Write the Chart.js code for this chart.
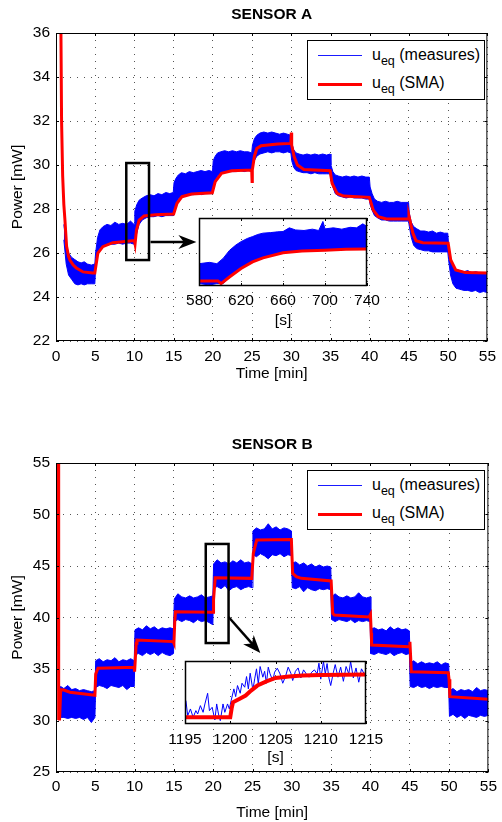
<!DOCTYPE html>
<html>
<head>
<meta charset="utf-8">
<script src="https://cdn.jsdelivr.net/npm/chart.js@4.4.1/dist/chart.umd.min.js"></script>
<style>
  body { margin: 0; background: #fff; }
  #wrap { position: relative; width: 502px; height: 822px; font-family: 'Liberation Sans', Arial, sans-serif; }
  canvas { position: absolute; }
  .lg { position: absolute; left: 307px; width: 176px; height: 58px; border: 1px solid #000; background: #fff; }
  .sw { position: absolute; left: 10px; width: 44px; }
  .tx { position: absolute; left: 64px; font-size: 16px; line-height: 16px; white-space: nowrap; color: #000; }
  .tx sub { font-size: 12.5px; vertical-align: -5px; line-height: 0; }
</style>
</head>
<body>
<div id="wrap">
  <canvas id="mainA" width="502" height="411" style="left:0;top:0"></canvas>
  <canvas id="mainB" width="502" height="411" style="left:0;top:411px"></canvas>

  <div class="lg" style="top:40px">
    <div class="sw" style="top:14px;height:1px;background:#1a1aff"></div>
    <div class="sw" style="top:42px;height:3px;background:#f00"></div>
    <div class="tx" style="top:6px">u<sub>eq</sub> (measures)</div>
    <div class="tx" style="top:34px">u<sub>eq</sub> (SMA)</div>
  </div>
  <div class="lg" style="top:470px">
    <div class="sw" style="top:14px;height:1px;background:#1a1aff"></div>
    <div class="sw" style="top:42px;height:3px;background:#f00"></div>
    <div class="tx" style="top:6px">u<sub>eq</sub> (measures)</div>
    <div class="tx" style="top:34px">u<sub>eq</sub> (SMA)</div>
  </div>

  <canvas id="insetA" width="205" height="122" style="left:180px;top:210px"></canvas>
  <canvas id="insetB" width="230" height="116" style="left:160px;top:652px"></canvas>
</div>

<script>
// ---- Sensor A, main plot (time in minutes, power in mW) ----
var smaTimeA = [0.5,0.63,0.71,0.85,1.0,1.14,1.35,1.6,1.77,2.2,2.6,3.45,4.7,4.95,5.34,5.97,7.23,9.75,10.0,10.08,
  10.26,10.6,11.23,12.7,15.0,15.43,16.06,17.3,19.93,20.3,21.1,22.4,24.95,25.0,25.03,25.3,25.6,26.15,28.26,29.94,
  30.0,30.05,30.36,30.78,31.6,34.95,35.2,35.83,36.67,39.95,40.45,41.08,42.13,44.95,45.0,45.5,45.9,46.76,50.0,50.33,
  50.96,52.2,55.0];
var smaA = [40,36,32,29.5,28.2,27.5,26.3,25.85,25.68,25.45,25.32,25.14,25.09,25.09,26.0,26.29,26.47,26.56,26.56,26.41,
  27.05,27.5,27.68,27.74,27.77,28.26,28.56,28.68,28.74,29.24,29.62,29.74,29.77,29.25,29.77,30.4,30.75,30.88,30.95,30.98,
  31.47,30.9,30.38,30.0,29.8,29.74,29.17,28.71,28.59,28.53,27.95,27.65,27.55,27.54,27.68,26.9,26.56,26.47,26.44,25.68,
  25.23,25.11,25.09];

var startTimeA = [0, 0.02];
var startA = [40, 28.7];

var bandTimeA = [1.0,1.3,1.6,2.0,2.4,2.8,3.2,3.6,4.0,4.5,4.95,
  5.05,5.3,5.6,6.0,6.5,7.0,7.5,8.0,8.5,9.0,9.5,9.95,
  10.05,10.3,10.6,11.0,11.5,12.0,12.5,13.0,13.5,14.0,14.5,14.95,
  15.05,15.3,15.6,16.0,16.5,17.0,17.5,18.0,18.5,19.0,19.5,19.95,
  20.05,20.3,20.6,21.0,21.5,22.0,22.5,23.0,23.5,24.0,24.5,24.95,
  25.05,25.3,25.6,26.0,26.5,27.0,27.5,28.0,28.5,29.0,29.5,29.95,
  30.05,30.3,30.6,31.0,31.5,32.0,32.5,33.0,33.5,34.0,34.5,34.95,
  35.05,35.3,35.6,36.0,36.5,37.0,37.5,38.0,38.5,39.0,39.5,39.95,
  40.05,40.3,40.6,41.0,41.5,42.0,42.5,43.0,43.5,44.0,44.5,44.95,
  45.05,45.3,45.6,46.0,46.5,47.0,47.5,48.0,48.5,49.0,49.5,49.95,
  50.05,50.3,50.6,51.0,51.5,52.0,52.5,53.0,53.5,54.0,54.5,55.0];
var bandHighA = [27.3,26.4,26.0,25.8,25.7,25.6,25.55,25.6,25.5,25.45,25.5,
  26.0,26.7,27.05,27.2,27.3,27.25,27.4,27.3,27.35,27.3,27.45,27.3,
  27.9,28.2,28.4,28.5,28.6,28.65,28.6,28.7,28.65,28.75,28.7,28.75,
  29.2,29.4,29.55,29.65,29.6,29.7,29.65,29.7,29.75,29.7,29.75,29.7,
  30.2,30.4,30.55,30.6,30.65,30.6,30.65,30.6,30.65,30.6,30.6,30.55,
  30.9,31.2,31.35,31.45,31.5,31.45,31.5,31.45,31.4,31.45,31.4,31.35,
  31.0,30.7,30.55,30.5,30.45,30.5,30.45,30.5,30.45,30.5,30.45,30.5,
  30.0,29.7,29.55,29.5,29.45,29.5,29.45,29.5,29.45,29.5,29.45,29.45,
  29.0,28.7,28.45,28.35,28.3,28.35,28.3,28.3,28.35,28.3,28.3,28.3,
  27.8,27.4,27.2,27.1,27.0,27.0,26.95,27.0,26.9,26.95,26.9,26.9,
  26.4,25.8,25.4,25.25,25.2,25.15,25.2,25.1,25.15,25.1,25.1,25.1];
var bandLowA = [26.6,25.5,25.0,24.8,24.6,24.55,24.6,24.55,24.6,24.6,24.6,
  25.3,25.9,26.2,26.3,26.35,26.4,26.4,26.45,26.4,26.45,26.45,26.4,
  26.45,26.9,27.3,27.5,27.6,27.65,27.65,27.7,27.65,27.7,27.7,27.7,
  27.9,28.2,28.45,28.55,28.6,28.65,28.65,28.7,28.65,28.7,28.7,28.7,
  29.0,29.3,29.5,29.6,29.65,29.7,29.7,29.7,29.75,29.7,29.75,29.7,
  29.9,30.2,30.4,30.5,30.55,30.6,30.55,30.6,30.6,30.55,30.6,30.55,
  30.2,29.9,29.75,29.7,29.65,29.65,29.6,29.65,29.6,29.6,29.6,29.6,
  29.3,29.0,28.7,28.6,28.55,28.5,28.55,28.5,28.5,28.5,28.45,28.45,
  28.2,27.95,27.7,27.6,27.5,27.5,27.45,27.45,27.45,27.45,27.45,27.45,
  27.2,26.7,26.35,26.2,26.15,26.1,26.1,26.05,26.05,26.05,26.05,26.05,
  25.7,25.0,24.6,24.4,24.35,24.3,24.3,24.25,24.3,24.2,24.25,24.2];

// ---- Sensor A, zoom inset (time in seconds) ----
var insetSmaTimeA = [580,598,601,609,620,631,641,660,678,700,720,740];
var insetSmaA = [26.6,26.6,26.5,26.75,27.07,27.32,27.47,27.66,27.73,27.76,27.79,27.8];
var insetBandTimeA = [580,590,597,603,609,615,620,626,631,636,641,648,655,660,666,672,680,688,694,698,700,708,716,724,730,736,740];
var insetHighA = [27.25,27.3,27.25,27.45,27.75,27.95,28.08,28.2,28.27,28.35,28.4,28.42,28.45,28.46,28.6,28.52,28.5,28.55,28.5,28.84,28.56,28.6,28.55,28.62,28.6,28.75,28.65];
var insetLowA = [26.5,26.45,26.5,26.5,26.75,26.95,27.07,27.2,27.32,27.4,27.47,27.55,27.62,27.66,27.68,27.7,27.73,27.74,27.75,27.76,27.76,27.77,27.78,27.79,27.8,27.8,27.8];

// ---- Sensor B, main plot ----
var smaTimeB = [0.27,0.3,0.38,0.45,0.6,1.0,1.77,4.7,4.95,5.05,5.34,9.95,10.0,10.2,10.3,14.9,15.0,15.1,15.2,19.95,
  20.0,20.04,20.25,24.9,25.0,25.1,25.53,29.94,30.1,30.57,31.2,35.0,35.2,35.4,39.83,40.0,40.1,40.15,44.95,45.02,
  45.2,49.9,50.0,50.1,55.0];
var smaB = [60,30.05,33.1,30.0,33.0,32.96,32.74,32.48,32.45,34.5,35.07,35.17,34.74,37.5,37.82,37.66,37.5,39.5,40.56,40.5,
  40.5,41.7,43.85,43.8,45.0,46.23,47.52,47.58,44.29,43.96,43.8,43.55,40.4,40.24,40.05,40.3,38.5,37.33,37.17,37.65,
  34.74,34.64,34.0,32.31,32.06];

var bandTimeB = [0.35,0.6,1.0,1.5,2.0,2.5,3.0,3.5,4.0,4.5,4.95,
  5.05,5.5,6.0,6.5,7.0,7.5,8.0,8.5,9.0,9.5,9.95,
  10.05,10.5,11.0,11.5,12.0,12.5,13.0,13.5,14.0,14.5,14.95,
  15.05,15.5,16.0,16.5,17.0,17.5,18.0,18.5,19.0,19.5,19.95,
  20.05,20.5,21.0,21.5,22.0,22.5,23.0,23.5,24.0,24.5,24.95,
  25.05,25.5,26.0,26.5,27.0,27.5,28.0,28.5,29.0,29.5,29.95,
  30.05,30.5,31.0,31.5,32.0,32.5,33.0,33.5,34.0,34.5,34.95,
  35.05,35.5,36.0,36.5,37.0,37.5,38.0,38.5,39.0,39.5,39.95,
  40.05,40.5,41.0,41.5,42.0,42.5,43.0,43.5,44.0,44.5,44.95,
  45.05,45.5,46.0,46.5,47.0,47.5,48.0,48.5,49.0,49.5,49.95,
  50.05,50.5,51.0,51.5,52.0,52.5,53.0,53.5,54.0,54.5,55.0];
var bandHighB = [33.2,33.3,33.1,33.4,33.0,33.1,32.9,33.0,32.9,32.8,32.9,
  35.8,36.0,35.7,35.9,35.8,36.1,35.7,35.9,35.8,36.0,35.8,
  38.8,39.0,38.8,39.2,38.9,39.1,38.8,39.0,38.9,39.0,38.9,
  41.8,42.3,42.0,41.9,42.1,41.9,42.0,42.2,41.9,42.0,42.1,
  45.2,45.6,45.3,45.4,45.2,45.5,45.3,45.6,45.3,45.4,45.2,
  48.4,48.7,48.5,48.6,49.1,48.6,48.8,48.5,48.7,48.6,48.4,
  45.3,45.4,45.1,45.3,45.0,45.2,44.9,45.1,44.9,45.0,44.9,
  42.0,42.3,42.0,41.9,42.1,41.9,42.0,42.4,42.0,41.9,42.0,
  38.9,39.0,38.8,38.9,38.7,39.1,38.8,39.0,38.8,38.9,38.7,
  35.6,35.8,35.5,35.7,35.5,35.6,35.5,35.7,35.4,35.6,35.5,
  32.9,33.1,32.8,33.0,32.9,33.0,32.8,33.2,32.9,33.0,32.9];
var bandLowB = [30.4,30.3,30.3,30.2,30.3,30.2,30.3,30.1,30.3,29.8,30.3,
  33.2,33.4,33.3,33.1,33.4,33.3,33.2,33.4,33.0,33.3,33.3,
  36.4,36.5,36.3,36.6,36.4,36.6,36.3,36.6,36.4,36.3,36.5,
  39.6,39.8,39.6,39.8,39.7,39.5,39.8,39.6,39.7,39.5,39.3,
  42.9,43.0,42.8,43.1,42.6,42.9,43.0,42.7,42.9,43.0,42.9,
  46.1,45.9,46.2,46.0,45.7,46.1,46.0,46.2,45.9,46.1,46.0,
  42.9,42.8,43.0,42.5,42.9,42.7,42.6,42.8,42.7,42.8,42.7,
  39.8,39.6,39.8,39.7,39.6,39.8,39.5,39.7,39.6,39.7,39.6,
  36.5,36.4,36.6,36.5,36.4,36.6,36.3,36.5,36.6,36.4,36.5,
  33.3,33.2,33.4,33.2,33.3,33.1,33.3,33.2,33.3,33.2,33.2,
  30.4,30.6,30.3,30.5,30.2,30.5,30.4,30.3,30.5,30.4,30.5];

// ---- Sensor B, zoom inset (time in seconds) ----
var insetTimeB = [1195.1,1195.3,1195.6,1195.9,1196.2,1196.4,1196.7,1197.0,1197.2,1197.5,
  1197.7,1198.0,1198.3,1198.5,1198.7,1198.9,1199.2,1199.4,1199.7,1199.9,
  1200.1,1200.4,1200.6,1200.8,1201.1,1201.3,1201.6,1201.8,1202.0,1202.2,
  1202.5,1202.7,1202.9,1203.1,1203.3,1203.6,1203.8,1204.0,1204.2,1204.4,
  1204.7,1204.9,1205.2,1205.5,1205.8,1206.1,1206.4,1206.7,1206.9,1207.2,
  1207.5,1207.8,1208.1,1208.4,1208.7,1209.0,1209.3,1209.6,1209.8,1210.0,
  1210.3,1210.5,1210.7,1210.9,1211.1,1211.4,1211.6,1211.9,1212.2,1212.5,
  1212.8,1213.1,1213.3,1213.6,1213.9,1214.2,1214.5,1214.8,1215.0];
var insetMeasB = [41.82,40.65,41.17,40.52,41.04,40.78,41.43,40.91,41.56,42.39,
  41.04,41.30,40.31,41.56,40.78,40.26,41.56,40.91,41.56,41.17,
  41.82,42.73,42.13,42.99,42.39,43.17,42.86,43.69,42.73,43.95,
  42.65,43.51,44.29,43.12,44.47,43.64,44.10,43.17,44.42,43.90,
  43.38,44.03,44.34,43.90,43.17,43.69,44.42,43.95,43.38,44.10,
  44.36,43.58,44.21,43.90,43.64,44.03,44.21,43.90,44.73,43.49,
  44.86,43.90,44.70,43.58,42.99,44.03,44.62,43.64,44.42,43.32,
  44.47,43.90,44.86,43.58,44.36,43.25,44.29,43.90,44.03];
var insetSmaTimeB = [1195,1200.0,1200.15,1200.3,1201,1201.7,1202.3,1203,1204,1205,1206.5,1208,1210,1215];
var insetSmaB = [40.52,40.52,41.2,41.69,41.95,42.21,42.6,42.99,43.32,43.58,43.69,43.77,43.82,43.85];

// zoom rectangles and arrows, in data units of the main plots
var zoomBoxA = {t0: 8.96, t1: 11.86, v0: 25.68, v1: 30.09};
var arrowA = {t0: 12.05, v0: 26.5, t1: 17.9, v1: 26.5};
var zoomBoxB = {t0: 19.05, t1: 21.95, v0: 37.52, v1: 47.14};
var arrowB = {t0: 21.95, v0: 40.05, t1: 25.99, v1: 36.55};

var BLUE = '#0000ff';
var RED = '#ff0000';
var GRID = '#555';
var DOTS = [1, 6];

Chart.defaults.font.family = "'Liberation Sans', Arial, sans-serif";
Chart.defaults.font.size = 15.5;
Chart.defaults.color = '#000';

function pts(xs, ys) {
    return xs.map(function (x, i) { return {x: x, y: ys[i]}; });
}

// plain numbers, no thousands separator
function plain(v) { return String(v); }

// black box round the plot area plus small inward ticks (matlab look)
var framePlugin = {
    id: 'frame',
    afterDatasetsDraw: function (chart, args, opts) {
        var ctx = chart.ctx, a = chart.chartArea;
        ctx.save();
        ctx.strokeStyle = '#000';
        ctx.lineWidth = opts.width || 1;
        ctx.strokeRect(a.left + 0.5, a.top + 0.5, a.right - a.left - 1, a.bottom - a.top - 1);
        var len = opts.tick || 0;
        ctx.lineWidth = 1;
        ctx.beginPath();
        chart.scales.x.ticks.forEach(function (t) {
            var px = Math.round(chart.scales.x.getPixelForValue(t.value)) + 0.5;
            ctx.moveTo(px, a.bottom); ctx.lineTo(px, a.bottom - len);
            ctx.moveTo(px, a.top); ctx.lineTo(px, a.top + len);
        });
        if (opts.yTicks) {
            chart.scales.y.ticks.forEach(function (t) {
                var py = Math.round(chart.scales.y.getPixelForValue(t.value)) + 0.5;
                ctx.moveTo(a.left, py); ctx.lineTo(a.left + len, py);
                ctx.moveTo(a.right, py); ctx.lineTo(a.right - len, py);
            });
        }
        ctx.stroke();
        ctx.restore();
    }
};

// zoom rectangle and arrow pointing to the inset
var zoomPlugin = {
    id: 'zoomMark',
    afterDatasetsDraw: function (chart, args, opts) {
        if (!opts.box) return;
        var ctx = chart.ctx, xs = chart.scales.x, ys = chart.scales.y;
        var b = opts.box, ar = opts.arrow;
        ctx.save();
        ctx.strokeStyle = '#000';
        ctx.fillStyle = '#000';
        ctx.lineWidth = 2.5;
        var x0 = xs.getPixelForValue(b.t0), x1 = xs.getPixelForValue(b.t1);
        var y0 = ys.getPixelForValue(b.v1), y1 = ys.getPixelForValue(b.v0);
        ctx.strokeRect(x0, y0, x1 - x0, y1 - y0);

        var ax0 = xs.getPixelForValue(ar.t0), ay0 = ys.getPixelForValue(ar.v0);
        var ax1 = xs.getPixelForValue(ar.t1), ay1 = ys.getPixelForValue(ar.v1);
        var ang = Math.atan2(ay1 - ay0, ax1 - ax0);
        var c = Math.cos(ang), s = Math.sin(ang);
        var hl = 18, hw = 7;
        var bx = ax1 - hl * c, by = ay1 - hl * s;
        ctx.beginPath();
        ctx.moveTo(ax0, ay0);
        ctx.lineTo(ax1 - 0.6 * hl * c, ay1 - 0.6 * hl * s);
        ctx.stroke();
        ctx.beginPath();
        ctx.moveTo(ax1, ay1);
        ctx.lineTo(bx - hw * s, by + hw * c);
        ctx.lineTo(ax1 - 0.7 * hl * c, ay1 - 0.7 * hl * s);
        ctx.lineTo(bx + hw * s, by - hw * c);
        ctx.closePath();
        ctx.fill();
        ctx.restore();
    }
};

// the inset hides whatever lies under its plot area
var whitePlugin = {
    id: 'whiteArea',
    beforeDraw: function (chart) {
        var a = chart.chartArea, ctx = chart.ctx;
        ctx.save();
        ctx.fillStyle = '#fff';
        ctx.fillRect(a.left, a.top, a.right - a.left, a.bottom - a.top);
        ctx.restore();
    }
};

function mainChart(id, o) {
    var datasets = [
        {data: pts(o.smaTime, o.sma), borderColor: RED, borderWidth: 3, fill: false, order: 0},
        {data: pts(o.bandTime, o.bandHigh), borderColor: BLUE, backgroundColor: BLUE, borderWidth: 1, fill: '+1', order: 2},
        {data: pts(o.bandTime, o.bandLow), borderColor: BLUE, borderWidth: 1, fill: false, order: 2}
    ];
    if (o.startTime) {
        datasets.push({data: pts(o.startTime, o.start), borderColor: BLUE, borderWidth: 1, fill: false, order: 1});
    }
    return new Chart(document.getElementById(id), {
        type: 'line',
        data: {datasets: datasets},
        options: {
            responsive: false,
            animation: false,
            devicePixelRatio: 1,
            elements: {point: {radius: 0}, line: {tension: 0}},
            layout: {padding: {top: 0, right: 10, left: 0, bottom: 0}},
            plugins: {
                legend: {display: false},
                tooltip: {enabled: false},
                title: {
                    display: true, text: o.title, fullSize: false,
                    font: {size: 15.5, weight: 'bold'}, color: '#000',
                    padding: {top: o.titleTop, bottom: 8.7}
                },
                frame: {tick: 3, yTicks: true, width: 1},
                zoomMark: {box: o.box, arrow: o.arrow}
            },
            scales: {
                x: {
                    type: 'linear', min: 0, max: 55,
                    ticks: {stepSize: 5, padding: o.xPad, autoSkip: false, maxRotation: 0, callback: plain},
                    grid: {color: GRID, drawTicks: false},
                    border: {display: false, dash: DOTS},
                    title: {display: true, text: 'Time [min]', padding: {top: 0, bottom: o.xTitlePad}},
                    afterFit: function (s) { s.height = o.xHeight; }
                },
                y: {
                    min: o.yMin, max: o.yMax,
                    ticks: {stepSize: o.yStep, padding: 6, callback: plain},
                    grid: {color: GRID, drawTicks: false},
                    border: {display: false, dash: DOTS},
                    title: {display: true, text: 'Power [mW]', padding: {top: 8, bottom: 0}},
                    afterFit: function (s) { s.width = 56; }
                }
            }
        },
        plugins: [framePlugin, zoomPlugin]
    });
}

function insetChart(id, datasets, o) {
    return new Chart(document.getElementById(id), {
        type: 'line',
        data: {datasets: datasets},
        options: {
            responsive: false,
            animation: false,
            devicePixelRatio: 1,
            elements: {point: {radius: 0}, line: {tension: 0}},
            layout: {padding: {top: o.top, right: o.right, left: o.left, bottom: 0}},
            plugins: {
                legend: {display: false},
                tooltip: {enabled: false},
                frame: {tick: 3, width: 1.5}
            },
            scales: {
                x: {
                    type: 'linear', min: o.xMin, max: o.xMax,
                    ticks: {stepSize: o.xStep, padding: o.xPad, autoSkip: false, maxRotation: 0, callback: plain},
                    grid: {color: GRID, drawTicks: false},
                    border: {display: false, dash: DOTS},
                    title: {display: true, text: '[s]', padding: {top: 0, bottom: o.xTitlePad}},
                    afterFit: function (s) { s.height = o.xHeight; }
                },
                y: {display: false, min: o.yMin, max: o.yMax}
            }
        },
        plugins: [whitePlugin, framePlugin]
    });
}

mainChart('mainA', {
    title: 'SENSOR A', titleTop: 5.7,
    smaTime: smaTimeA, sma: smaA,
    bandTime: bandTimeA, bandHigh: bandHighA, bandLow: bandLowA,
    startTime: startTimeA, start: startA,
    yMin: 22, yMax: 36, yStep: 2,
    xHeight: 70, xPad: 6, xTitlePad: 28,
    box: zoomBoxA, arrow: arrowA
});

mainChart('mainB', {
    title: 'SENSOR B', titleTop: 24.7,
    smaTime: smaTimeB, sma: smaB,
    bandTime: bandTimeB, bandHigh: bandHighB, bandLow: bandLowB,
    yMin: 25, yMax: 55, yStep: 5,
    xHeight: 50, xPad: 5, xTitlePad: 0,
    box: zoomBoxB, arrow: arrowB
});

insetChart('insetA', [
    {data: pts(insetSmaTimeA, insetSmaA), borderColor: RED, borderWidth: 3, fill: false, order: 0},
    {data: pts(insetBandTimeA, insetHighA), borderColor: BLUE, backgroundColor: BLUE, borderWidth: 1, fill: '+1', order: 1},
    {data: pts(insetBandTimeA, insetLowA), borderColor: BLUE, borderWidth: 1, fill: false, order: 1}
], {
    left: 19, right: 18, top: 8,
    xMin: 580, xMax: 740, xStep: 40, xPad: 5, xTitlePad: 2, xHeight: 46,
    yMin: 26.41, yMax: 28.97
});

insetChart('insetB', [
    {data: pts(insetSmaTimeB, insetSmaB), borderColor: RED, borderWidth: 4, fill: false, order: 0},
    {data: pts(insetTimeB, insetMeasB), borderColor: BLUE, borderWidth: 1, fill: false, order: 1}
], {
    left: 25, right: 24, top: 9,
    xMin: 1195, xMax: 1215, xStep: 5, xPad: 6, xTitlePad: 1, xHeight: 44,
    yMin: 40.0, yMax: 44.9
});
</script>
</body>
</html>
